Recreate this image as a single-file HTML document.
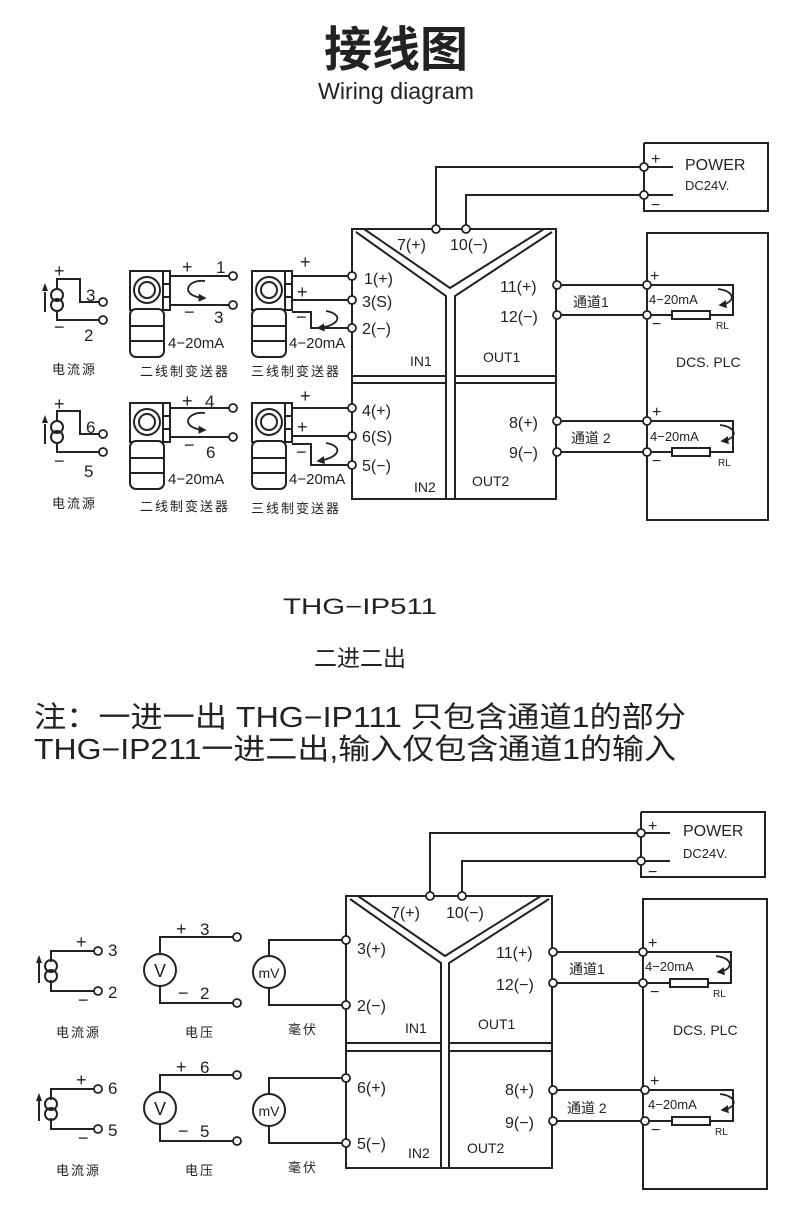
<!DOCTYPE html>
<html><head><meta charset="utf-8"><style>
html,body{margin:0;padding:0;background:#fff;}
svg{display:block;}
text{font-family:"Liberation Sans","Noto Sans CJK SC",sans-serif;fill:#222;}
.cn{font-family:"Liberation Sans","Noto Sans CJK SC",sans-serif;}
</style></head><body>
<svg width="790" height="1219" viewBox="0 0 790 1219" xmlns="http://www.w3.org/2000/svg">
<defs>
<marker id="ah" viewBox="0 0 10 10" refX="8" refY="5" markerWidth="4.5" markerHeight="4.5" orient="auto"><path d="M0,0 L10,5 L0,10z" fill="#222"/></marker>
<g id="tx" fill="none" stroke="#222" stroke-width="2">
  <rect x="0" y="0" width="34" height="39" fill="#fff"/>
  <circle cx="17" cy="19" r="13"/>
  <circle cx="17" cy="19" r="8"/>
  <rect x="33" y="0" width="7" height="39" fill="#fff"/>
  <line x1="33" y1="13" x2="40" y2="13"/><line x1="33" y1="26" x2="40" y2="26"/>
  <rect x="0" y="38" width="34" height="48" rx="6" fill="#fff"/>
  <line x1="0" y1="55" x2="34" y2="55"/><line x1="0" y1="70" x2="34" y2="70"/>
</g>
<g id="cs" fill="none" stroke="#222" stroke-width="2">
  <circle cx="0" cy="-5" r="6"/><circle cx="0" cy="5" r="6"/>
  <line x1="-12" y1="12" x2="-12" y2="-8"/>
</g>
</defs>

<text x="396" y="66" text-anchor="middle" font-size="48" class="cn" style="font-weight:bold">接线图</text>
<text x="396" y="99" text-anchor="middle" font-size="23" textLength="156" lengthAdjust="spacingAndGlyphs">Wiring diagram</text>

<g fill="none" stroke="#222" stroke-width="2">
  <rect x="352" y="229" width="204" height="270"/>
  <polyline points="356,232 446,296 446,499"/>
  <polyline points="552,232 455,296 455,499"/>
  <polyline points="364,229 450,288 544,229"/>
  <line x1="352" y1="376" x2="446" y2="376"/><line x1="455" y1="376" x2="556" y2="376"/>
  <line x1="352" y1="383" x2="446" y2="383"/><line x1="455" y1="383" x2="556" y2="383"/>
  <polyline points="436,229 436,167 673,167"/>
  <polyline points="466,229 466,195 673,195"/>
  <polyline points="644,143 768,143 768,211 644,211 644,143"/>
  <rect x="647" y="233" width="121" height="287"/>
  <polyline points="557,285 733,285 733,315 710,315"/>
  <line x1="557" y1="315" x2="672" y2="315"/>
  <rect x="672" y="311" width="38" height="8"/>
  <polyline points="557,421 733,421 733,452 710,452"/>
  <line x1="557" y1="452" x2="672" y2="452"/>
  <rect x="672" y="448" width="38" height="8"/>
  <polyline points="57,289 57,279 80,279 80,302 103,302"/>
  <polyline points="57,311 57,320 103,320"/>
  <line x1="170" y1="276" x2="233" y2="276"/>
  <line x1="170" y1="305" x2="233" y2="305"/>
  <line x1="292" y1="276" x2="352" y2="276"/>
  <line x1="292" y1="300" x2="352" y2="300"/>
  <polyline points="292,312 311,312 311,328 352,328"/>
  <polyline points="57,421 57,411 80,411 80,434 103,434"/>
  <polyline points="57,443 57,452 103,452"/>
  <line x1="170" y1="408" x2="233" y2="408"/>
  <line x1="170" y1="437" x2="233" y2="437"/>
  <line x1="292" y1="408" x2="352" y2="408"/>
  <line x1="292" y1="436" x2="352" y2="436"/>
  <polyline points="292,444 311,444 311,465 352,465"/>
</g>
<use href="#tx" x="130" y="271"/><use href="#tx" x="252" y="271"/>
<use href="#tx" x="130" y="403"/><use href="#tx" x="252" y="403"/>
<use href="#cs" x="57" y="300"/><use href="#cs" x="57" y="432"/>
<path d="M45,283 l-3,8 h6z M45,415 l-3,8 h6z" fill="#222"/>
<g fill="none" stroke="#222" stroke-width="1.8" marker-end="url(#ah)">
  <path d="M205,281 C185,279 180,297 205,298"/>
  <path d="M205,413 C185,411 180,429 205,430"/>
  <path d="M326,311 C344,314 340,326 318,328"/>
  <path d="M326,443 C344,446 340,458 318,461"/>
  <path d="M718,289 C736,291 736,303 720,305"/>
  <path d="M720,425 C738,427 738,439 722,441"/>
  <path d="M716,956 C734,958 734,970 718,972"/>
  <path d="M720,1094 C738,1096 738,1108 722,1110"/>
</g>
<g fill="#fff" stroke="#222" stroke-width="1.8">
  <circle cx="436" cy="229" r="4"/><circle cx="466" cy="229" r="4"/>
  <circle cx="644" cy="167" r="4"/><circle cx="644" cy="195" r="4"/>
  <circle cx="352" cy="276" r="4"/><circle cx="352" cy="300" r="4"/><circle cx="352" cy="328" r="4"/>
  <circle cx="352" cy="408" r="4"/><circle cx="352" cy="436" r="4"/><circle cx="352" cy="465" r="4"/>
  <circle cx="557" cy="285" r="4"/><circle cx="557" cy="315" r="4"/>
  <circle cx="557" cy="421" r="4"/><circle cx="557" cy="452" r="4"/>
  <circle cx="647" cy="285" r="4"/><circle cx="647" cy="315" r="4"/>
  <circle cx="647" cy="421" r="4"/><circle cx="647" cy="452" r="4"/>
  <circle cx="103" cy="302" r="4"/><circle cx="103" cy="320" r="4"/>
  <circle cx="103" cy="434" r="4"/><circle cx="103" cy="452" r="4"/>
  <circle cx="233" cy="276" r="4"/><circle cx="233" cy="305" r="4"/>
  <circle cx="233" cy="408" r="4"/><circle cx="233" cy="437" r="4"/>
</g>
<g font-size="16">
  <text x="397" y="250">7(+)</text><text x="450" y="250">10(−)</text>
  <text x="364" y="284">1(+)</text><text x="362" y="307">3(S)</text><text x="362" y="334">2(−)</text>
  <text x="362" y="416">4(+)</text><text x="362" y="442">6(S)</text><text x="362" y="471">5(−)</text>
  <text x="500" y="292">11(+)</text><text x="500" y="322">12(−)</text>
  <text x="509" y="428">8(+)</text><text x="509" y="458">9(−)</text>
  <text x="410" y="366" font-size="14">IN1</text><text x="483" y="362" font-size="14">OUT1</text>
  <text x="414" y="492" font-size="14">IN2</text><text x="472" y="486" font-size="14">OUT2</text>
  <text x="685" y="170">POWER</text><text x="685" y="190" font-size="13">DC24V.</text>
  <text x="651" y="164">+</text><text x="651" y="210">−</text>
  <text x="676" y="367" font-size="14">DCS. PLC</text>
  <text x="573" y="307" font-size="14">通道1</text><text x="571" y="443" font-size="14">通道 2</text>
  <text x="649" y="304" font-size="13">4−20mA</text><text x="650" y="441" font-size="13">4−20mA</text>
  <text x="650" y="281">+</text><text x="652" y="329">−</text>
  <text x="652" y="417">+</text><text x="652" y="466">−</text>
  <text x="716" y="329" font-size="10">RL</text><text x="718" y="466" font-size="10">RL</text>
  <text x="54" y="277" font-size="18">+</text><text x="86" y="301" font-size="17">3</text>
  <text x="54" y="333" font-size="18">−</text><text x="84" y="341" font-size="17">2</text>
  <text x="54" y="410" font-size="18">+</text><text x="86" y="433" font-size="17">6</text>
  <text x="54" y="467" font-size="18">−</text><text x="84" y="477" font-size="17">5</text>
  <text x="182" y="273" font-size="18">+</text><text x="216" y="273" font-size="17">1</text>
  <text x="184" y="318" font-size="18">−</text><text x="214" y="323" font-size="17">3</text>
  <text x="182" y="407" font-size="18">+</text><text x="205" y="407" font-size="17">4</text>
  <text x="184" y="451" font-size="18">−</text><text x="206" y="458" font-size="17">6</text>
  <text x="300" y="268" font-size="18">+</text><text x="297" y="298" font-size="18">+</text><text x="296" y="323" font-size="18">−</text>
  <text x="300" y="402" font-size="18">+</text><text x="297" y="433" font-size="18">+</text><text x="296" y="458" font-size="18">−</text>
  <text x="168" y="348" font-size="15">4−20mA</text><text x="289" y="348" font-size="15">4−20mA</text>
  <text x="168" y="484" font-size="15">4−20mA</text><text x="289" y="484" font-size="15">4−20mA</text>
  <text x="52" y="374" font-size="13" letter-spacing="2">电流源</text>
  <text x="140" y="376" font-size="13" letter-spacing="2" fill="#555">二线制变送器</text>
  <text x="251" y="376" font-size="13" letter-spacing="2" fill="#555">三线制变送器</text>
  <text x="52" y="508" font-size="13" letter-spacing="2">电流源</text>
  <text x="140" y="511" font-size="13" letter-spacing="2" fill="#555">二线制变送器</text>
  <text x="251" y="513" font-size="13" letter-spacing="2" fill="#555">三线制变送器</text>
</g>

<text x="360" y="614" text-anchor="middle" font-size="22" textLength="154" lengthAdjust="spacingAndGlyphs">THG−IP511</text>
<text x="360" y="666" text-anchor="middle" font-size="23" class="cn">二进二出</text>
<text x="34" y="727" font-size="29" textLength="652" lengthAdjust="spacingAndGlyphs">注：一进一出 THG−IP111 只包含通道1的部分</text>
<text x="34" y="759" font-size="29" textLength="642" lengthAdjust="spacingAndGlyphs">THG−IP211一进二出,输入仅包含通道1的输入</text>

<g fill="none" stroke="#222" stroke-width="2">
  <rect x="346" y="896" width="206" height="272"/>
  <polyline points="350,899 441,963 441,1168"/>
  <polyline points="549,899 449,963 449,1168"/>
  <polyline points="358,896 445,956 541,896"/>
  <line x1="346" y1="1043" x2="441" y2="1043"/><line x1="449" y1="1043" x2="552" y2="1043"/>
  <line x1="346" y1="1051" x2="441" y2="1051"/><line x1="449" y1="1051" x2="552" y2="1051"/>
  <polyline points="430,896 430,833 670,833"/>
  <polyline points="462,896 462,861 670,861"/>
  <polyline points="641,812 765,812 765,877 641,877 641,812"/>
  <rect x="643" y="899" width="124" height="290"/>
  <polyline points="553,952 731,952 731,983 708,983"/>
  <line x1="553" y1="983" x2="670" y2="983"/>
  <rect x="670" y="979" width="38" height="8"/>
  <polyline points="553,1090 733,1090 733,1121 710,1121"/>
  <line x1="553" y1="1121" x2="672" y2="1121"/>
  <rect x="672" y="1117" width="38" height="8"/>
  <polyline points="51,962 51,951 98,951"/><polyline points="51,980 51,991 98,991"/>
  <circle cx="160" cy="970" r="16"/>
  <polyline points="160,954 160,937 237,937"/><polyline points="160,986 160,1003 237,1003"/>
  <circle cx="269" cy="972" r="16"/>
  <polyline points="269,956 269,940 346,940"/><polyline points="269,988 269,1005 346,1005"/>
  <polyline points="51,1100 51,1089 98,1089"/><polyline points="51,1118 51,1129 98,1129"/>
  <circle cx="160" cy="1108" r="16"/>
  <polyline points="160,1092 160,1075 237,1075"/><polyline points="160,1124 160,1141 237,1141"/>
  <circle cx="269" cy="1110" r="16"/>
  <polyline points="269,1094 269,1078 346,1078"/><polyline points="269,1126 269,1143 346,1143"/>
</g>
<use href="#cs" x="51" y="971"/><use href="#cs" x="51" y="1109"/>
<path d="M39,955 l-3,8 h6z M39,1093 l-3,8 h6z" fill="#222"/>
<g fill="#fff" stroke="#222" stroke-width="1.8">
  <circle cx="430" cy="896" r="4"/><circle cx="462" cy="896" r="4"/>
  <circle cx="641" cy="833" r="4"/><circle cx="641" cy="861" r="4"/>
  <circle cx="346" cy="940" r="4"/><circle cx="346" cy="1005" r="4"/>
  <circle cx="346" cy="1078" r="4"/><circle cx="346" cy="1143" r="4"/>
  <circle cx="553" cy="952" r="4"/><circle cx="553" cy="983" r="4"/>
  <circle cx="553" cy="1090" r="4"/><circle cx="553" cy="1121" r="4"/>
  <circle cx="643" cy="952" r="4"/><circle cx="643" cy="983" r="4"/>
  <circle cx="645" cy="1090" r="4"/><circle cx="645" cy="1121" r="4"/>
  <circle cx="98" cy="951" r="4"/><circle cx="98" cy="991" r="4"/>
  <circle cx="98" cy="1089" r="4"/><circle cx="98" cy="1129" r="4"/>
  <circle cx="237" cy="937" r="4"/><circle cx="237" cy="1003" r="4"/>
  <circle cx="237" cy="1075" r="4"/><circle cx="237" cy="1141" r="4"/>
</g>
<g font-size="16">
  <text x="391" y="918">7(+)</text><text x="446" y="918">10(−)</text>
  <text x="357" y="954">3(+)</text><text x="357" y="1011">2(−)</text>
  <text x="357" y="1093">6(+)</text><text x="357" y="1149">5(−)</text>
  <text x="496" y="958">11(+)</text><text x="496" y="990">12(−)</text>
  <text x="505" y="1095">8(+)</text><text x="505" y="1128">9(−)</text>
  <text x="405" y="1033" font-size="14">IN1</text><text x="478" y="1029" font-size="14">OUT1</text>
  <text x="408" y="1158" font-size="14">IN2</text><text x="467" y="1153" font-size="14">OUT2</text>
  <text x="683" y="836">POWER</text><text x="683" y="858" font-size="13">DC24V.</text>
  <text x="648" y="831">+</text><text x="648" y="877">−</text>
  <text x="673" y="1035" font-size="14">DCS. PLC</text>
  <text x="569" y="974" font-size="14">通道1</text><text x="567" y="1113" font-size="14">通道 2</text>
  <text x="645" y="971" font-size="13">4−20mA</text><text x="648" y="1109" font-size="13">4−20mA</text>
  <text x="648" y="948">+</text><text x="650" y="997">−</text>
  <text x="650" y="1086">+</text><text x="651" y="1135">−</text>
  <text x="713" y="997" font-size="10">RL</text><text x="715" y="1135" font-size="10">RL</text>
  <text x="76" y="948" font-size="18">+</text><text x="108" y="956" font-size="17">3</text>
  <text x="78" y="1006" font-size="18">−</text><text x="108" y="998" font-size="17">2</text>
  <text x="76" y="1086" font-size="18">+</text><text x="108" y="1094" font-size="17">6</text>
  <text x="78" y="1144" font-size="18">−</text><text x="108" y="1136" font-size="17">5</text>
  <text x="176" y="935" font-size="18">+</text><text x="200" y="935" font-size="17">3</text>
  <text x="178" y="999" font-size="18">−</text><text x="200" y="999" font-size="17">2</text>
  <text x="176" y="1073" font-size="18">+</text><text x="200" y="1073" font-size="17">6</text>
  <text x="178" y="1137" font-size="18">−</text><text x="200" y="1137" font-size="17">5</text>
  <text x="160" y="977" text-anchor="middle" font-size="18">V</text>
  <text x="160" y="1115" text-anchor="middle" font-size="18">V</text>
  <text x="269" y="978" text-anchor="middle" font-size="14">mV</text>
  <text x="269" y="1116" text-anchor="middle" font-size="14">mV</text>
  <text x="56" y="1037" font-size="13" letter-spacing="2">电流源</text>
  <text x="185" y="1037" font-size="13" letter-spacing="2">电压</text>
  <text x="288" y="1034" font-size="13" letter-spacing="2">毫伏</text>
  <text x="56" y="1175" font-size="13" letter-spacing="2">电流源</text>
  <text x="185" y="1175" font-size="13" letter-spacing="2">电压</text>
  <text x="288" y="1172" font-size="13" letter-spacing="2">毫伏</text>
</g>
</svg>
</body></html>
